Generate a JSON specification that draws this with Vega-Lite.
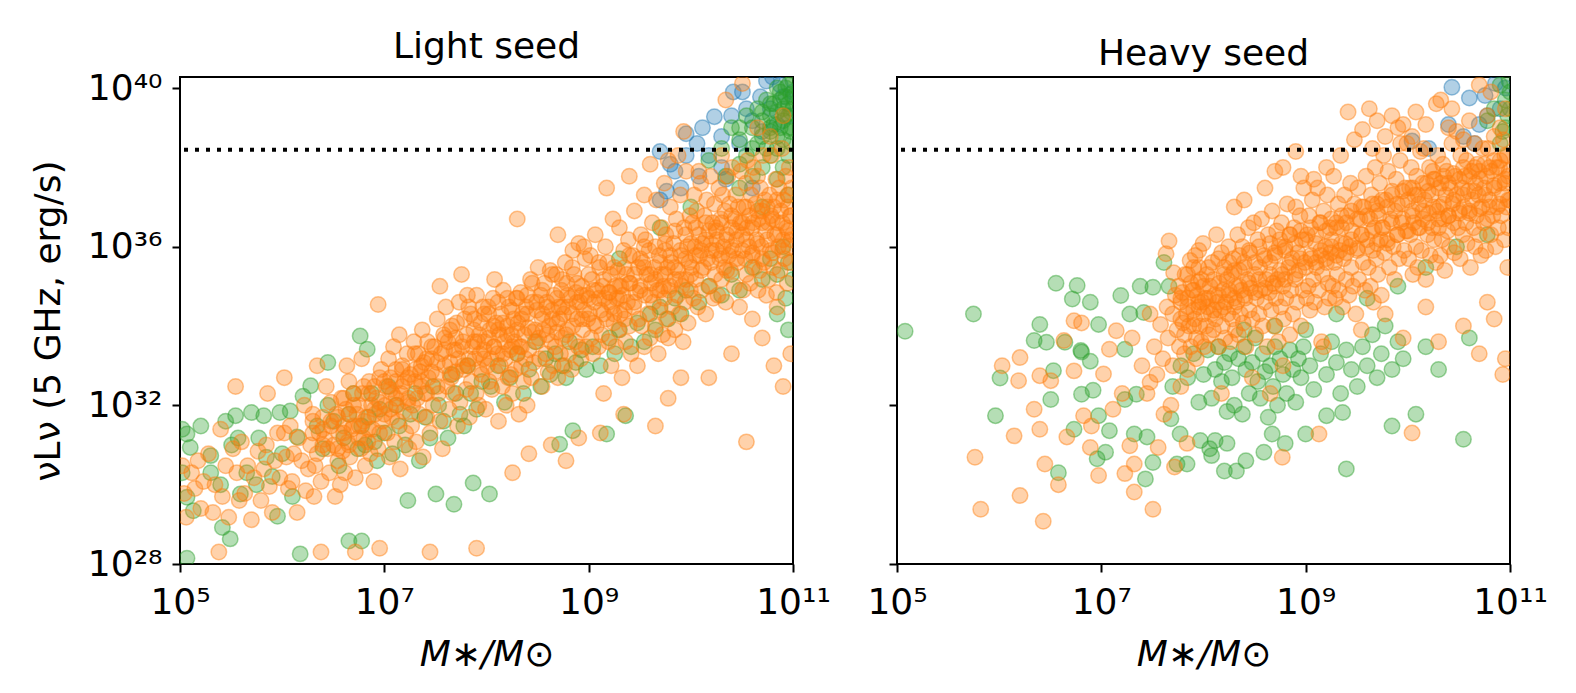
{
"$schema":"https://vega.github.io/schema/vega-lite/v6.json",
"background":"white",
"padding":{"left":29,"top":28,"right":5,"bottom":5},
"config":{
"font":"DejaVu Sans",
"view":{"stroke":"black","strokeWidth":2},
"axis":{"domain":false,"grid":false,"tickColor":"black","tickWidth":2,"tickSize":8,"labelFont":"DejaVu Sans","labelFontSize":36,"labelColor":"black","labelFlush":false,"labelOverlap":false,"titleFont":"DejaVu Sans","titleFontSize":36,"titleFontWeight":"normal","titleColor":"black"},
"axisX":{"labelPadding":13,"titlePadding":17},
"axisY":{"labelPadding":10,"titlePadding":20},
"title":{"font":"DejaVu Sans","fontSize":36,"fontWeight":"normal","color":"black","anchor":"middle","baseline":"alphabetic","offset":0}
},
"datasets":{
"light_blue":[{"x":1.7e10,"y":1.9e39},{"x":2.6e10,"y":8e39},{"x":3.2e10,"y":8e39},{"x":4.8e10,"y":6e39},{"x":6.3e10,"y":1.9e40},{"x":1.15e10,"y":4e38},{"x":6.3e9,"y":1.2e38},{"x":1.2e10,"y":6e37},{"x":2.5e10,"y":2e39},{"x":8e9,"y":3e37},{"x":1.5e10,"y":2e38},{"x":2e10,"y":1e38},{"x":3e10,"y":4e38},{"x":4e10,"y":1.5e39},{"x":5e10,"y":8e38},{"x":6e10,"y":3e39},{"x":7e10,"y":1.2e39},{"x":8e10,"y":6e39},{"x":9e10,"y":2e39},{"x":1e11,"y":8e39},{"x":2.2e10,"y":5e37},{"x":5e9,"y":1.5e37},{"x":7e9,"y":8e37},{"x":4e10,"y":3e37},{"x":9e9,"y":2e38},{"x":1.3e10,"y":1e39},{"x":3.5e10,"y":3e39},{"x":5.5e10,"y":1.5e40},{"x":7.5e10,"y":1.2e40},{"x":2e10,"y":6e38},{"x":9e9,"y":7e38},{"x":5e9,"y":2.5e38},{"x":5.8e9,"y":2.5e37}],
"light_green":[{"x":1.17e5,"y":1.9e31},{"x":1.26e5,"y":8.7e30},{"x":2e5,"y":5.4e30},{"x":3.5e5,"y":5.5e31},{"x":5e5,"y":6.6e31},{"x":6.6e5,"y":5.5e31},{"x":9.5e5,"y":6.6e31},{"x":1.2e6,"y":7.2e31},{"x":3.7e5,"y":1.5e31},{"x":5.9e5,"y":1.5e31},{"x":7e5,"y":4.9e30},{"x":2.5e5,"y":1e30},{"x":3.9e5,"y":5.8e29},{"x":1.17e5,"y":4.8e29},{"x":1.35e5,"y":2.2e29},{"x":2.6e5,"y":8.3e28},{"x":3.1e5,"y":4.3e28},{"x":1.17e5,"y":1.4e28},{"x":1.6e6,"y":1.7e32},{"x":1.9e6,"y":3.1e32},{"x":2.8e6,"y":1.2e33},{"x":5.8e6,"y":5.6e33},{"x":6.8e6,"y":2.6e33},{"x":1.7e7,"y":4e29},{"x":3.2e7,"y":5.8e29},{"x":4.8e7,"y":3.2e29},{"x":1.07e8,"y":5.8e29},{"x":7.4e7,"y":1.1e30},{"x":4.5e6,"y":3.8e28},{"x":6e6,"y":3.8e28},{"x":1.5e6,"y":1.8e28},{"x":2.3e9,"y":5.5e31},{"x":1.5e9,"y":1.9e31},{"x":7e8,"y":2.3e31},{"x":5.2e8,"y":1.05e31},{"x":1.6e5,"y":3e31},{"x":2.8e5,"y":4e31},{"x":4.5e5,"y":2e30},{"x":2e5,"y":2e30},{"x":8e5,"y":1.6e30},{"x":1e6,"y":6e30},{"x":5.6e5,"y":1e30},{"x":3.2e5,"y":1e31},{"x":1.26e6,"y":5e29},{"x":1.4e6,"y":1.6e31},{"x":9e5,"y":1.6e29},{"x":1.05e5,"y":2e30},{"x":1.05e5,"y":2.5e31},{"x":2.2e6,"y":3e31},{"x":2.5e6,"y":8e30},{"x":2.8e6,"y":1e32},{"x":3.2e6,"y":4e31},{"x":3.6e6,"y":3e30},{"x":4e6,"y":1.5e31},{"x":4.5e6,"y":6e31},{"x":5e6,"y":2e32},{"x":5.5e6,"y":8e30},{"x":6e6,"y":3e31},{"x":6.5e6,"y":1e31},{"x":7e6,"y":5e31},{"x":7.5e6,"y":2e32},{"x":8e6,"y":1.2e31},{"x":8.5e6,"y":4e30},{"x":9e6,"y":8e31},{"x":1e7,"y":2e31},{"x":1.1e7,"y":3e32},{"x":1.2e7,"y":6e30},{"x":1.3e7,"y":1e32},{"x":1.4e7,"y":3e31},{"x":1.6e7,"y":1e31},{"x":1.8e7,"y":6e31},{"x":2e7,"y":2e32},{"x":2.2e7,"y":4e30},{"x":2.5e7,"y":5e31},{"x":2.8e7,"y":1.5e31},{"x":3e7,"y":3e32},{"x":3.4e7,"y":1e32},{"x":3.8e7,"y":4e31},{"x":4.2e7,"y":1.5e31},{"x":4.6e7,"y":6e32},{"x":5e7,"y":2e32},{"x":5.5e7,"y":6e31},{"x":6e7,"y":3e31},{"x":6.5e7,"y":1e33},{"x":7e7,"y":2e32},{"x":8e7,"y":8e31},{"x":9e7,"y":4e32},{"x":1.1e8,"y":3e32},{"x":1.3e8,"y":1e33},{"x":1.5e8,"y":1.2e32},{"x":1.7e8,"y":5e32},{"x":2e8,"y":2e33},{"x":2.3e8,"y":2e32},{"x":2.6e8,"y":8e32},{"x":3e8,"y":4e33},{"x":3.4e8,"y":3e32},{"x":3.8e8,"y":1.5e33},{"x":4.2e8,"y":6e32},{"x":4.7e8,"y":2e33},{"x":5.5e8,"y":1e33},{"x":6e8,"y":5e32},{"x":6.5e8,"y":4e33},{"x":7.5e8,"y":1.2e33},{"x":8.5e8,"y":2.5e33},{"x":9.5e8,"y":8e32},{"x":1.1e9,"y":3e33},{"x":1.3e9,"y":1e33},{"x":1.6e9,"y":5e33},{"x":1.8e9,"y":2e33},{"x":2e9,"y":8e33},{"x":2.6e9,"y":3e33},{"x":3e9,"y":1.2e34},{"x":3.5e9,"y":4e33},{"x":4e9,"y":2e34},{"x":4.5e9,"y":8e33},{"x":5e9,"y":3e34},{"x":6e9,"y":1.5e34},{"x":7e9,"y":5e34},{"x":8e9,"y":2e34},{"x":9e9,"y":8e34},{"x":1.2e10,"y":4e34},{"x":1.5e10,"y":1e35},{"x":2e10,"y":6e34},{"x":2.5e10,"y":2e35},{"x":3e10,"y":8e34},{"x":4e10,"y":3e35},{"x":5e10,"y":1.5e35},{"x":6e10,"y":5e35},{"x":7e10,"y":2e35},{"x":8e10,"y":1e36},{"x":9e10,"y":4e35},{"x":1e11,"y":1.5e35},{"x":7e10,"y":2e34},{"x":9e10,"y":8e33},{"x":8.5e10,"y":5e34},{"x":2e10,"y":3e38},{"x":2.5e10,"y":1e39},{"x":3e10,"y":5e38},{"x":3.5e10,"y":2e39},{"x":3.5e10,"y":2e38},{"x":4e10,"y":1e39},{"x":4.5e10,"y":4e38},{"x":4.5e10,"y":3e39},{"x":5e10,"y":1.5e39},{"x":5e10,"y":6e38},{"x":5.5e10,"y":3e38},{"x":5.5e10,"y":5e39},{"x":6e10,"y":2e39},{"x":6e10,"y":8e38},{"x":6.5e10,"y":1.2e39},{"x":6.5e10,"y":4e39},{"x":7e10,"y":6e38},{"x":7e10,"y":2.5e39},{"x":7.5e10,"y":1e39},{"x":7.5e10,"y":8e39},{"x":8e10,"y":3e39},{"x":8e10,"y":1.5e39},{"x":8e10,"y":5e38},{"x":8.5e10,"y":6e39},{"x":8.5e10,"y":2e39},{"x":9e10,"y":1e39},{"x":9e10,"y":4e39},{"x":9e10,"y":1.2e40},{"x":9.5e10,"y":2.5e39},{"x":9.5e10,"y":8e38},{"x":9.5e10,"y":7e39},{"x":1e11,"y":1.5e40},{"x":1e11,"y":3e39},{"x":3e10,"y":1.2e38},{"x":4e10,"y":6e37},{"x":6e10,"y":2e38},{"x":8e10,"y":1e38},{"x":9.8e10,"y":4e38},{"x":1.5e10,"y":1.5e38},{"x":2.2e10,"y":6e37},{"x":4e10,"y":3e38},{"x":5e10,"y":1e38},{"x":7e10,"y":3e38},{"x":9e10,"y":2e38},{"x":6e10,"y":4e39},{"x":7e10,"y":1e40},{"x":8.5e10,"y":1e40},{"x":1e11,"y":6e39},{"x":9.8e10,"y":1e39},{"x":6e10,"y":1e39},{"x":5e10,"y":2.5e39},{"x":7.5e10,"y":5e39},{"x":3e10,"y":1e39},{"x":3e10,"y":3e37},{"x":5e10,"y":1e37},{"x":7e10,"y":5e37},{"x":9e10,"y":2e37},{"x":1e10,"y":1e37},{"x":5e9,"y":3e36},{"x":2e9,"y":5e35}],
"light_orange":[{"x":1.05e5,"y":3e30},{"x":1.1e5,"y":6e29},{"x":1.15e5,"y":1.5e29},{"x":1.3e5,"y":2e30},{"x":1.4e5,"y":8e29},{"x":1.5e5,"y":4e30},{"x":1.6e5,"y":2.5e29},{"x":1.7e5,"y":1.2e30},{"x":1.9e5,"y":6e30},{"x":2.1e5,"y":2e29},{"x":2.2e5,"y":1e30},{"x":2.5e5,"y":2.5e31},{"x":2.6e5,"y":5e29},{"x":2.8e5,"y":3e30},{"x":3e5,"y":1.5e29},{"x":2.4e5,"y":2e28},{"x":3.3e5,"y":8e30},{"x":3.6e5,"y":2e30},{"x":3.8e5,"y":4e29},{"x":4e5,"y":1.2e31},{"x":4.3e5,"y":6e29},{"x":4.6e5,"y":3e30},{"x":5e5,"y":1.3e29},{"x":5.3e5,"y":1.5e30},{"x":3.5e5,"y":3e32},{"x":5.8e5,"y":7e30},{"x":6.2e5,"y":4e29},{"x":6.6e5,"y":2.5e30},{"x":7e5,"y":1e31},{"x":7.5e5,"y":9e29},{"x":8e5,"y":2e29},{"x":8.5e5,"y":4e30},{"x":9e5,"y":2e31},{"x":9.5e5,"y":1.5e30},{"x":7.2e5,"y":2e32},{"x":1.05e6,"y":2e31},{"x":1.1e6,"y":5e30},{"x":1.15e6,"y":8e29},{"x":1.2e6,"y":3e31},{"x":1.25e6,"y":1.2e30},{"x":1.3e6,"y":6e30},{"x":1.4e6,"y":2e29},{"x":1.45e6,"y":1.5e31},{"x":1.55e6,"y":4e30},{"x":1.65e6,"y":1e32},{"x":1.7e6,"y":7e29},{"x":1.05e6,"y":5e32},{"x":1.8e6,"y":2.5e30},{"x":1.9e6,"y":1e31},{"x":2e6,"y":4e31},{"x":2.05e6,"y":5e29},{"x":2.1e6,"y":3e30},{"x":2.2e6,"y":6e30},{"x":2.3e6,"y":2e31},{"x":2.4e6,"y":1.2e30},{"x":2.5e6,"y":5e31},{"x":2.6e6,"y":1.4e31},{"x":2.7e6,"y":3e32},{"x":2.8e6,"y":8e30},{"x":2.9e6,"y":2e30},{"x":3e6,"y":3e31},{"x":2.2e6,"y":1e33},{"x":2.4e6,"y":2e28},{"x":3.2e6,"y":1e31},{"x":3.3e6,"y":5e29},{"x":3.4e6,"y":6e31},{"x":3.5e6,"y":4e30},{"x":3.6e6,"y":2e31},{"x":3.7e6,"y":1e30},{"x":3.8e6,"y":1.5e32},{"x":3.9e6,"y":7e30},{"x":4e6,"y":3e31},{"x":4.1e6,"y":2e30},{"x":4.2e6,"y":8e31},{"x":4.4e6,"y":1.2e31},{"x":4.5e6,"y":4e32},{"x":4.6e6,"y":5e30},{"x":4.8e6,"y":2.5e31},{"x":5e6,"y":1e32},{"x":5.2e6,"y":1.5e30},{"x":5.4e6,"y":6e31},{"x":4.3e6,"y":1e33},{"x":5.2e6,"y":2e28},{"x":5.7e6,"y":3e31},{"x":5.9e6,"y":8e30},{"x":6.1e6,"y":2e32},{"x":6.3e6,"y":1.5e31},{"x":6.5e6,"y":3e30},{"x":6.7e6,"y":5e31},{"x":6.9e6,"y":1.2e31},{"x":7.1e6,"y":4e32},{"x":7.3e6,"y":6e30},{"x":7.5e6,"y":1e32},{"x":7.7e6,"y":2.5e31},{"x":7.9e6,"y":1.2e30},{"x":8.1e6,"y":6e31},{"x":8.4e6,"y":1.5e32},{"x":8.7e6,"y":8e30},{"x":9e6,"y":2e31},{"x":9.3e6,"y":8e32},{"x":9.6e6,"y":4e31},{"x":8.7e6,"y":3.5e34},{"x":9e6,"y":2.5e28},{"x":6e6,"y":1.5e33},{"x":1.02e7,"y":1e32},{"x":1.05e7,"y":3e32},{"x":1.07e7,"y":2e31},{"x":1.1e7,"y":1.5e33},{"x":1.12e7,"y":5e30},{"x":1.15e7,"y":5e32},{"x":1.18e7,"y":5e31},{"x":1.2e7,"y":2e32},{"x":1.23e7,"y":3e33},{"x":1.26e7,"y":1.2e31},{"x":1.3e7,"y":8e32},{"x":1.33e7,"y":1e32},{"x":1.36e7,"y":4e31},{"x":1.4e7,"y":6e33},{"x":1.43e7,"y":2.5e30},{"x":1.46e7,"y":2e32},{"x":1.5e7,"y":1e33},{"x":1.54e7,"y":7e31},{"x":1.58e7,"y":4e32},{"x":1.62e7,"y":2e31},{"x":1.67e7,"y":2e33},{"x":1.72e7,"y":1.5e32},{"x":1.75e7,"y":8e30},{"x":1.8e7,"y":6e32},{"x":1.85e7,"y":3e31},{"x":1.9e7,"y":1e32},{"x":1.95e7,"y":4e33},{"x":2e7,"y":4e32},{"x":2.05e7,"y":1.2e31},{"x":2.1e7,"y":1.5e32},{"x":2.15e7,"y":2e33},{"x":2.2e7,"y":6e31},{"x":2.25e7,"y":7e32},{"x":2.3e7,"y":3e32},{"x":2.35e7,"y":8e33},{"x":2.4e7,"y":5e30},{"x":2.45e7,"y":1.2e33},{"x":2.5e7,"y":2e32},{"x":2.6e7,"y":5e31},{"x":2.65e7,"y":4e33},{"x":2.7e7,"y":5e32},{"x":2.8e7,"y":2e31},{"x":2.9e7,"y":1.5e33},{"x":3e7,"y":1e32},{"x":3.1e7,"y":3e33},{"x":2.8e7,"y":2e28},{"x":3.2e7,"y":6e32},{"x":3.3e7,"y":1.5e34},{"x":3.4e7,"y":2e32},{"x":3.5e7,"y":1e35},{"x":3.5e7,"y":4e31},{"x":3.6e7,"y":2e33},{"x":3.7e7,"y":8e30},{"x":3.8e7,"y":6e33},{"x":3.9e7,"y":1e33},{"x":4e7,"y":3e34},{"x":4.1e7,"y":3e32},{"x":4.2e7,"y":4e33},{"x":4.3e7,"y":8e31},{"x":4.4e7,"y":1.2e33},{"x":4.5e7,"y":5e32},{"x":4.6e7,"y":1e34},{"x":4.7e7,"y":2e32},{"x":4.8e7,"y":2.5e33},{"x":5e7,"y":7e32},{"x":5e7,"y":5e33},{"x":5.2e7,"y":3e31},{"x":5.3e7,"y":1.5e33},{"x":5.4e7,"y":4e34},{"x":5.5e7,"y":1.2e32},{"x":5.7e7,"y":2e35},{"x":5.8e7,"y":3e33},{"x":6e7,"y":8e32},{"x":6.1e7,"y":1.5e34},{"x":6.3e7,"y":2.5e32},{"x":6.4e7,"y":6e33},{"x":6.6e7,"y":1e33},{"x":6.8e7,"y":5e31},{"x":7e7,"y":2e34},{"x":7.1e7,"y":4e32},{"x":7.3e7,"y":3e33},{"x":7.5e7,"y":8e33},{"x":7.7e7,"y":1.5e33},{"x":7.9e7,"y":2e32},{"x":8e7,"y":6e34},{"x":8.2e7,"y":4e33},{"x":8.4e7,"y":1e32},{"x":8.6e7,"y":2e33},{"x":8.8e7,"y":1.2e34},{"x":9e7,"y":6e32},{"x":9.2e7,"y":3e34},{"x":9.4e7,"y":1.5e33},{"x":9.6e7,"y":4e33},{"x":9.8e7,"y":8e31},{"x":8e7,"y":2.5e28},{"x":6.5e7,"y":6e34},{"x":1.02e8,"y":1e33},{"x":1.04e8,"y":3e34},{"x":1.06e8,"y":4e32},{"x":1.08e8,"y":8e33},{"x":1.1e8,"y":1.5e33},{"x":1.13e8,"y":2.5e32},{"x":1.16e8,"y":5e34},{"x":1.19e8,"y":3e33},{"x":1.22e8,"y":7e32},{"x":1.25e8,"y":1.2e34},{"x":1.28e8,"y":2e33},{"x":1.31e8,"y":4e31},{"x":1.34e8,"y":6e33},{"x":1.37e8,"y":1e33},{"x":1.4e8,"y":2e34},{"x":1.43e8,"y":3e32},{"x":1.46e8,"y":8e34},{"x":1.5e8,"y":4e33},{"x":1.53e8,"y":1.5e33},{"x":1.56e8,"y":1e32},{"x":1.6e8,"y":1e34},{"x":1.63e8,"y":5e32},{"x":1.66e8,"y":3e34},{"x":1.7e8,"y":2.5e33},{"x":1.73e8,"y":6e32},{"x":1.76e8,"y":6e33},{"x":1.2e8,"y":1.5e35},{"x":1.8e8,"y":2e32},{"x":1.84e8,"y":1.5e34},{"x":1.88e8,"y":4e33},{"x":1.92e8,"y":8e32},{"x":1.96e8,"y":5e34},{"x":2e8,"y":2e33},{"x":2e8,"y":5e36},{"x":2.04e8,"y":1.2e34},{"x":2.08e8,"y":6e31},{"x":2.12e8,"y":3e33},{"x":2.16e8,"y":7e34},{"x":2.2e8,"y":1e33},{"x":2.25e8,"y":2e34},{"x":2.3e8,"y":4e32},{"x":2.35e8,"y":6e33},{"x":2.4e8,"y":1.5e33},{"x":2.45e8,"y":3e34},{"x":2.5e8,"y":1e32},{"x":2.55e8,"y":9e33},{"x":2.6e8,"y":2.5e33},{"x":2.7e8,"y":1.5e35},{"x":2.75e8,"y":5e32},{"x":2.8e8,"y":4e34},{"x":2.9e8,"y":1.2e33},{"x":3e8,"y":8e33},{"x":3.1e8,"y":2.5e34},{"x":2.6e8,"y":6e30},{"x":1.8e8,"y":2e30},{"x":3.2e8,"y":3e35},{"x":3.25e8,"y":5e33},{"x":3.3e8,"y":1.5e33},{"x":3.4e8,"y":6e34},{"x":3.5e8,"y":3e32},{"x":3.55e8,"y":2e34},{"x":3.6e8,"y":8e33},{"x":3.7e8,"y":1.2e35},{"x":3.8e8,"y":2e33},{"x":3.9e8,"y":4e34},{"x":4e8,"y":7e32},{"x":4.1e8,"y":1e34},{"x":4.2e8,"y":2.5e35},{"x":4.3e8,"y":4e33},{"x":4.4e8,"y":1.5e34},{"x":4.5e8,"y":1e33},{"x":4.6e8,"y":6e34},{"x":4.7e8,"y":3e33},{"x":4.8e8,"y":2e35},{"x":4.9e8,"y":7e33},{"x":5e8,"y":5e32},{"x":5.1e8,"y":3e34},{"x":5.2e8,"y":1.5e34},{"x":5.3e8,"y":2e33},{"x":5.4e8,"y":8e34},{"x":5.5e8,"y":5e33},{"x":5e8,"y":2e36},{"x":4.3e8,"y":1e31},{"x":5.7e8,"y":2e34},{"x":5.8e8,"y":1e33},{"x":5.9e8,"y":4e35},{"x":6e8,"y":6e33},{"x":6.1e8,"y":1.2e35},{"x":6.3e8,"y":3e34},{"x":6.4e8,"y":2e33},{"x":6.6e8,"y":5e34},{"x":6.8e8,"y":8e32},{"x":7e8,"y":1e34},{"x":7e8,"y":8e35},{"x":7.2e8,"y":2e35},{"x":7.4e8,"y":4e33},{"x":7.5e8,"y":7e34},{"x":7.7e8,"y":1.5e34},{"x":7.9e8,"y":3e33},{"x":8e8,"y":1.2e36},{"x":8.2e8,"y":4e34},{"x":8.4e8,"y":1.5e33},{"x":8.6e8,"y":1e35},{"x":8.8e8,"y":8e33},{"x":9e8,"y":2.5e34},{"x":9.2e8,"y":5e35},{"x":9.4e8,"y":3e33},{"x":9.6e8,"y":6e34},{"x":9.8e8,"y":1.5e34},{"x":9e8,"y":1e36},{"x":6e8,"y":4e30},{"x":8e8,"y":1.5e31},{"x":1.02e9,"y":2e34},{"x":1.04e9,"y":6e35},{"x":1.06e9,"y":5e33},{"x":1.08e9,"y":1.5e35},{"x":1.1e9,"y":2e33},{"x":1.13e9,"y":4e34},{"x":1.16e9,"y":2e36},{"x":1.19e9,"y":1e34},{"x":1.22e9,"y":8e34},{"x":1.25e9,"y":3e33},{"x":1.28e9,"y":3e35},{"x":1.31e9,"y":2.5e34},{"x":1.34e9,"y":6e33},{"x":1.37e9,"y":1e35},{"x":1.4e9,"y":2e32},{"x":1.43e9,"y":5e34},{"x":1.46e9,"y":1e36},{"x":1.5e9,"y":1.5e34},{"x":1.53e9,"y":4e35},{"x":1.56e9,"y":4e33},{"x":1.6e9,"y":7e34},{"x":1.63e9,"y":2e35},{"x":1.66e9,"y":1e33},{"x":1.7e9,"y":3e34},{"x":1.73e9,"y":5e36},{"x":1.76e9,"y":1.2e34},{"x":1.5e9,"y":3e37},{"x":1.3e9,"y":2e31},{"x":1.8e9,"y":1e35},{"x":1.84e9,"y":3e33},{"x":1.88e9,"y":5e34},{"x":1.92e9,"y":2.5e35},{"x":1.96e9,"y":8e33},{"x":2e9,"y":3e36},{"x":2.04e9,"y":2e34},{"x":2.08e9,"y":1e35},{"x":2.12e9,"y":5e32},{"x":2.16e9,"y":6e34},{"x":2.2e9,"y":8e35},{"x":2.25e9,"y":1.5e34},{"x":2.3e9,"y":4e33},{"x":2.35e9,"y":2e35},{"x":2.4e9,"y":4e34},{"x":2.45e9,"y":1.5e36},{"x":2.5e9,"y":1e34},{"x":2.55e9,"y":1.2e35},{"x":2.6e9,"y":2e33},{"x":2.7e9,"y":6e35},{"x":2.75e9,"y":3e34},{"x":2.8e9,"y":8e36},{"x":2.9e9,"y":7e34},{"x":3e9,"y":1e33},{"x":3.05e9,"y":3e35},{"x":3.1e9,"y":1.5e34},{"x":2.5e9,"y":6e37},{"x":2.2e9,"y":6e31},{"x":3.2e9,"y":1e35},{"x":3.25e9,"y":2e36},{"x":3.3e9,"y":1e34},{"x":3.4e9,"y":4e35},{"x":3.5e9,"y":3e33},{"x":3.55e9,"y":6e34},{"x":3.6e9,"y":1.5e36},{"x":3.7e9,"y":2e35},{"x":3.8e9,"y":2e34},{"x":3.9e9,"y":8e35},{"x":4e9,"y":5e33},{"x":4.1e9,"y":1.2e35},{"x":4.2e9,"y":4e36},{"x":4.3e9,"y":4e34},{"x":4.4e9,"y":3e35},{"x":4.5e9,"y":1e34},{"x":4.6e9,"y":1.5e37},{"x":4.7e9,"y":8e34},{"x":4.8e9,"y":2e33},{"x":4.9e9,"y":6e35},{"x":5e9,"y":2.5e34},{"x":5.1e9,"y":2e35},{"x":5.2e9,"y":3e36},{"x":5.3e9,"y":6e33},{"x":5.4e9,"y":1e35},{"x":5.5e9,"y":5e34},{"x":5.6e9,"y":8e35},{"x":4e9,"y":1.2e38},{"x":3.5e9,"y":2e37},{"x":4.5e9,"y":3e31},{"x":5.5e9,"y":4e37},{"x":5.7e9,"y":2e36},{"x":5.8e9,"y":1.5e34},{"x":5.9e9,"y":3e35},{"x":6e9,"y":5e33},{"x":6.1e9,"y":8e34},{"x":6.3e9,"y":1e37},{"x":6.4e9,"y":4e35},{"x":6.6e9,"y":3e34},{"x":6.8e9,"y":1.2e36},{"x":7e9,"y":1.5e35},{"x":7e9,"y":8e33},{"x":7.2e9,"y":5e36},{"x":7.4e9,"y":6e34},{"x":7.5e9,"y":2.5e35},{"x":7.7e9,"y":2e34},{"x":7.9e9,"y":2e37},{"x":8e9,"y":6e35},{"x":8.2e9,"y":1e35},{"x":8.4e9,"y":4e33},{"x":8.6e9,"y":3e36},{"x":8.8e9,"y":4e34},{"x":9e9,"y":1.5e35},{"x":9.2e9,"y":1e36},{"x":9.4e9,"y":1.2e34},{"x":9.6e9,"y":4e35},{"x":9.8e9,"y":6e36},{"x":9.9e9,"y":8e34},{"x":6e9,"y":1.5e38},{"x":7.5e9,"y":2e38},{"x":9e9,"y":8e37},{"x":8e9,"y":5e32},{"x":6e9,"y":1.5e32},{"x":1.02e10,"y":3e35},{"x":1.04e10,"y":4e36},{"x":1.06e10,"y":5e34},{"x":1.08e10,"y":2e37},{"x":1.1e10,"y":1e36},{"x":1.12e10,"y":1.5e35},{"x":1.14e10,"y":8e36},{"x":1.17e10,"y":3e34},{"x":1.2e10,"y":2e36},{"x":1.22e10,"y":6e35},{"x":1.25e10,"y":4e37},{"x":1.28e10,"y":8e34},{"x":1.3e10,"y":1.2e36},{"x":1.33e10,"y":3e35},{"x":1.36e10,"y":6e36},{"x":1.4e10,"y":2e34},{"x":1.43e10,"y":1.5e37},{"x":1.46e10,"y":5e35},{"x":1.5e10,"y":2.5e36},{"x":1.53e10,"y":1e35},{"x":1.56e10,"y":6e37},{"x":1.6e10,"y":8e35},{"x":1.63e10,"y":4e36},{"x":1.66e10,"y":5e34},{"x":1.7e10,"y":1.2e37},{"x":1.73e10,"y":2e35},{"x":1.76e10,"y":3e36},{"x":1.2e10,"y":8e37},{"x":1.5e10,"y":5e32},{"x":8.5e9,"y":8e38},{"x":2.2e10,"y":5e39},{"x":3.2e10,"y":1.3e40},{"x":1.8e10,"y":1.5e36},{"x":1.84e10,"y":6e34},{"x":1.88e10,"y":3e37},{"x":1.92e10,"y":5e35},{"x":1.96e10,"y":5e36},{"x":2e10,"y":1.5e35},{"x":2.04e10,"y":2e37},{"x":2.08e10,"y":1e36},{"x":2.12e10,"y":3e35},{"x":2.16e10,"y":8e36},{"x":2.2e10,"y":4e34},{"x":2.25e10,"y":2e36},{"x":2.3e10,"y":6e37},{"x":2.35e10,"y":6e35},{"x":2.4e10,"y":1.2e37},{"x":2.45e10,"y":2.5e35},{"x":2.5e10,"y":3e36},{"x":2.55e10,"y":1e38},{"x":2.6e10,"y":8e35},{"x":2.65e10,"y":1e35},{"x":2.7e10,"y":5e36},{"x":2.75e10,"y":2e37},{"x":2.8e10,"y":1.5e36},{"x":2.85e10,"y":4e35},{"x":2.9e10,"y":1e37},{"x":3e10,"y":3e34},{"x":3.05e10,"y":4e36},{"x":3.1e10,"y":8e37},{"x":2e10,"y":2e38},{"x":2.5e10,"y":2e33},{"x":3.2e10,"y":2e36},{"x":3.25e10,"y":8e34},{"x":3.3e10,"y":1e37},{"x":3.4e10,"y":5e35},{"x":3.45e10,"y":4e37},{"x":3.5e10,"y":2e35},{"x":3.55e10,"y":3e36},{"x":3.6e10,"y":1.5e38},{"x":3.7e10,"y":1e36},{"x":3.75e10,"y":6e36},{"x":3.8e10,"y":1.2e35},{"x":3.9e10,"y":2e37},{"x":4e10,"y":7e35},{"x":4.05e10,"y":4e36},{"x":4.1e10,"y":1e38},{"x":4.2e10,"y":3e35},{"x":4.3e10,"y":1.2e37},{"x":4.4e10,"y":1.5e36},{"x":4.5e10,"y":6e37},{"x":4.55e10,"y":8e34},{"x":4.6e10,"y":5e36},{"x":4.7e10,"y":2.5e35},{"x":4.8e10,"y":3e37},{"x":4.9e10,"y":1e36},{"x":5e10,"y":8e36},{"x":5.1e10,"y":2e38},{"x":5.2e10,"y":4e35},{"x":5.3e10,"y":1.5e37},{"x":5.4e10,"y":2.5e36},{"x":5.5e10,"y":6e34},{"x":3.5e10,"y":1.2e31},{"x":5e10,"y":5e33},{"x":4e10,"y":1.5e34},{"x":4.5e10,"y":1e39},{"x":5.7e10,"y":4e36},{"x":5.8e10,"y":1.5e35},{"x":5.9e10,"y":2e37},{"x":6e10,"y":8e35},{"x":6.1e10,"y":6e36},{"x":6.2e10,"y":2e38},{"x":6.4e10,"y":3e35},{"x":6.5e10,"y":1e37},{"x":6.6e10,"y":2e36},{"x":6.8e10,"y":5e37},{"x":6.9e10,"y":7e34},{"x":7e10,"y":4e36},{"x":7.2e10,"y":1e36},{"x":7.3e10,"y":3e37},{"x":7.5e10,"y":2.5e35},{"x":7.6e10,"y":8e36},{"x":7.8e10,"y":3e38},{"x":8e10,"y":1.5e36},{"x":8.1e10,"y":1.5e37},{"x":8.3e10,"y":5e35},{"x":8.5e10,"y":6e37},{"x":8.6e10,"y":3e36},{"x":8.8e10,"y":1.2e35},{"x":8.9e10,"y":2e37},{"x":9e10,"y":1e36},{"x":9.2e10,"y":1e38},{"x":9.4e10,"y":6e36},{"x":9.5e10,"y":4e35},{"x":9.7e10,"y":3e37},{"x":9.9e10,"y":2e36},{"x":8e10,"y":3e32},{"x":6.5e10,"y":1e33},{"x":9.5e10,"y":2e33},{"x":7e10,"y":3e34},{"x":8e10,"y":2e39},{"x":6e10,"y":6e38},
{"x":2e6,"y":2e31},{"x":2e6,"y":6e31},{"x":2.5e6,"y":1e31},{"x":2.5e6,"y":2.5e31},{"x":3e6,"y":4e31},{"x":3e6,"y":1.2e32},{"x":3.5e6,"y":8e30},{"x":3.5e6,"y":5e31},{"x":4e6,"y":1.5e32},{"x":4e6,"y":2e31},{"x":4.5e6,"y":6e31},{"x":4.5e6,"y":1e31},{"x":5e6,"y":3e31},{"x":5e6,"y":2e32},{"x":5.6e6,"y":1e32},{"x":5.6e6,"y":1.5e31},{"x":6.3e6,"y":4e31},{"x":6.3e6,"y":3e32},{"x":7e6,"y":2e32},{"x":7e6,"y":2.5e31},{"x":8e6,"y":8e31},{"x":8e6,"y":3e32},{"x":9e6,"y":1.2e32},{"x":9e6,"y":5e32},{"x":1e7,"y":6e31},{"x":1e7,"y":4e32},{"x":1.15e7,"y":2.5e32},{"x":1.15e7,"y":8e31},{"x":1.3e7,"y":4e32},{"x":1.3e7,"y":1.5e32},{"x":1.5e7,"y":3e32},{"x":1.5e7,"y":8e32},{"x":1.7e7,"y":5e32},{"x":1.7e7,"y":1.2e32},{"x":2e7,"y":2e33},{"x":2e7,"y":8e32},{"x":2.3e7,"y":1e33},{"x":2.3e7,"y":4e32},{"x":2.6e7,"y":1.5e33},{"x":2.6e7,"y":2e32},{"x":2.9e7,"y":7e32},{"x":2.9e7,"y":3e33},
{"x":3.3e7,"y":1.2e33},{"x":3.3e7,"y":3e32},{"x":3.9e7,"y":5e33},{"x":3.9e7,"y":2.5e33},{"x":4.4e7,"y":6e32},{"x":4.4e7,"y":8e33},{"x":5.1e7,"y":2.5e33},{"x":5.1e7,"y":1.2e34},{"x":5.9e7,"y":4e33},{"x":5.9e7,"y":1e33},{"x":6.7e7,"y":3e34},{"x":6.7e7,"y":1.5e33},{"x":7.6e7,"y":4e33},{"x":7.6e7,"y":1.5e34},{"x":8.5e7,"y":8e32},{"x":8.5e7,"y":6e33},{"x":9.5e7,"y":2e34},{"x":9.5e7,"y":2.5e33},{"x":1.05e8,"y":5e33},{"x":1.05e8,"y":2e34},{"x":1.18e8,"y":1e34},{"x":1.18e8,"y":3e33},{"x":1.3e8,"y":4e34},{"x":1.3e8,"y":8e33},{"x":1.45e8,"y":2e33},{"x":1.45e8,"y":1.2e34},{"x":1.6e8,"y":6e33},{"x":1.6e8,"y":5e34},{"x":1.78e8,"y":2.5e34},{"x":1.78e8,"y":3e33},{"x":2e8,"y":8e33},{"x":2e8,"y":5e34},{"x":2.2e8,"y":3e33},{"x":2.2e8,"y":1.5e34},{"x":2.5e8,"y":2e34},{"x":2.5e8,"y":6e34},{"x":2.8e8,"y":7e33},{"x":2.8e8,"y":1.2e35},{"x":3.1e8,"y":4e33},{"x":3.1e8,"y":4e34},{"x":3.5e8,"y":1.5e34},{"x":3.5e8,"y":8e34},{"x":3.9e8,"y":6e33},{"x":3.9e8,"y":3e34},{"x":4.4e8,"y":2e35},{"x":4.4e8,"y":2.5e34},{"x":4.9e8,"y":1.2e34},{"x":4.9e8,"y":5e34},{"x":5.5e8,"y":1.5e35},{"x":5.5e8,"y":3e34},{"x":6.2e8,"y":8e33},{"x":6.2e8,"y":6e34},{"x":6.9e8,"y":2e34},{"x":6.9e8,"y":3e35},{"x":7.7e8,"y":4e34},{"x":7.7e8,"y":1.2e35},{"x":8.6e8,"y":1.5e34},{"x":8.6e8,"y":6e34},{"x":1e9,"y":5e34},{"x":1e9,"y":2e35},{"x":1.12e9,"y":1.2e34},{"x":1.12e9,"y":8e34},{"x":1.26e9,"y":4e35},{"x":1.26e9,"y":5e34},{"x":1.4e9,"y":2e34},{"x":1.4e9,"y":1.5e35},{"x":1.58e9,"y":7e34},{"x":1.58e9,"y":4e34},{"x":1.78e9,"y":3e35},{"x":1.78e9,"y":2e34},{"x":2e9,"y":1e35},{"x":2e9,"y":5e34},{"x":2.24e9,"y":2.5e34},{"x":2.24e9,"y":3e35},{"x":2.5e9,"y":1.2e35},{"x":2.5e9,"y":6e35},{"x":2.8e9,"y":4e34},{"x":2.8e9,"y":2e35},{"x":3.2e9,"y":8e34},{"x":3.2e9,"y":5e35},{"x":3.5e9,"y":3e35},{"x":3.5e9,"y":1e36},{"x":4e9,"y":6e34},{"x":4e9,"y":2e35},{"x":4.5e9,"y":1e36},{"x":4.5e9,"y":1.5e35},{"x":5e9,"y":4e35},{"x":5e9,"y":8e34},{"x":5.6e9,"y":2e35},{"x":5.6e9,"y":1.2e36},{"x":6.3e9,"y":6e35},{"x":6.3e9,"y":1e35},{"x":7e9,"y":3e35},{"x":7e9,"y":2.5e36},{"x":7.9e9,"y":1.5e35},{"x":7.9e9,"y":8e35},{"x":8.9e9,"y":5e35},{"x":8.9e9,"y":2e36},{"x":1e10,"y":2e35},{"x":1e10,"y":1.2e36},{"x":1.12e10,"y":6e35},{"x":1.12e10,"y":3e36},{"x":1.26e10,"y":2.5e35},{"x":1.26e10,"y":8e35},{"x":1.4e10,"y":1.5e36},{"x":1.4e10,"y":4e36},{"x":1.58e10,"y":4e35},{"x":1.58e10,"y":1.2e36},{"x":1.78e10,"y":2.5e36},{"x":1.78e10,"y":8e35},{"x":2e10,"y":6e35},{"x":2e10,"y":4e36},{"x":2.24e10,"y":1.5e36},{"x":2.24e10,"y":2.5e35},{"x":2.5e10,"y":1e36},{"x":2.5e10,"y":6e36},{"x":2.8e10,"y":2.5e36},{"x":2.8e10,"y":5e35},{"x":3.2e10,"y":8e35},{"x":3.2e10,"y":4e36},{"x":3.5e10,"y":1.5e36},{"x":3.5e10,"y":1e37},{"x":4e10,"y":3e36},{"x":4e10,"y":6e35},{"x":4.5e10,"y":1.2e36},{"x":4.5e10,"y":8e36},{"x":5e10,"y":4e36},{"x":5e10,"y":5e35},{"x":5.6e10,"y":1.5e36},{"x":5.6e10,"y":1e37},{"x":6.3e10,"y":5e36},{"x":6.3e10,"y":7e35},{"x":7e10,"y":2e36},{"x":7e10,"y":1.5e37},{"x":7.9e10,"y":4e36},{"x":7.9e10,"y":8e35},{"x":8.9e10,"y":1e37},{"x":8.9e10,"y":2.5e36},{"x":9.6e10,"y":6e36},{"x":9.6e10,"y":1.5e36}],
"heavy_blue":[{"x":2.7e10,"y":1.05e40},{"x":4e10,"y":5.6e39},{"x":5.7e10,"y":6.5e39},{"x":7.2e10,"y":1.3e40},{"x":1.1e10,"y":4.6e38},{"x":2.5e10,"y":1.2e39},{"x":6e10,"y":2e39},{"x":8e10,"y":3e39},{"x":9e10,"y":1e40},{"x":1.6e10,"y":3e38},{"x":3.5e10,"y":6e38},{"x":5e10,"y":1.2e39},{"x":4.5e10,"y":4e38}],
"heavy_green":[{"x":1.2e5,"y":7.4e33},{"x":5.6e5,"y":2e34},{"x":3.6e6,"y":1.2e35},{"x":5.8e6,"y":1.05e35},{"x":5.2e6,"y":4.8e34},{"x":7.8e6,"y":4e34},{"x":2.5e6,"y":1.1e34},{"x":2.2e6,"y":4.3e33},{"x":2.9e6,"y":3.9e33},{"x":4.4e6,"y":3.9e33},{"x":6.4e6,"y":2.2e33},{"x":6.3e6,"y":2.4e33},{"x":9.4e6,"y":1.1e34},{"x":1.55e7,"y":5.9e34},{"x":2.4e7,"y":1e35},{"x":3.2e7,"y":9.5e34},{"x":4.6e7,"y":1e35},{"x":4.1e7,"y":4e35},{"x":1.02e6,"y":4.9e32},{"x":3.4e6,"y":7.5e32},{"x":7.8e6,"y":1.3e33},{"x":1.7e7,"y":2.6e33},{"x":1.9e7,"y":2e34},{"x":2.6e7,"y":2.2e34},{"x":9.2e5,"y":5.5e31},{"x":3.2e6,"y":1.4e32},{"x":6.4e6,"y":1.9e32},{"x":8.3e6,"y":2.4e32},{"x":5.4e6,"y":2.5e31},{"x":9.4e6,"y":5.5e31},{"x":9.1e6,"y":4.5e30},{"x":1.1e7,"y":6.6e30},{"x":3.8e6,"y":2e30},{"x":1.2e7,"y":2.3e31},{"x":2.1e7,"y":1.9e31},{"x":2.8e7,"y":1.6e31},{"x":2.7e7,"y":1.4e30},{"x":3.2e7,"y":3.6e30},{"x":5.5e7,"y":3.3e30},{"x":6.9e7,"y":3.3e30},{"x":1.7e7,"y":1.4e32},{"x":2.2e7,"y":1.9e32},{"x":4.8e7,"y":4.6e31},{"x":5.9e7,"y":1.9e31},{"x":9.3e7,"y":1.3e31},{"x":1.2e8,"y":5.4e30},{"x":1.6e8,"y":2.2e30},{"x":2.1e8,"y":2.2e30},{"x":2.6e8,"y":4e30},{"x":3.9e8,"y":6.6e30},{"x":6.3e8,"y":1.1e31},{"x":4.7e8,"y":1.9e31},{"x":1e9,"y":1.9e31},{"x":1.6e9,"y":5.5e31},{"x":2.3e9,"y":6.6e31},{"x":2.5e9,"y":2.5e30},{"x":1.15e8,"y":8e30},{"x":1.3e8,"y":1.3e31},{"x":1.7e8,"y":1.1e31},{"x":5e7,"y":3e32},{"x":6e7,"y":1e33},{"x":7e7,"y":5e32},{"x":8e7,"y":2e33},{"x":9e7,"y":1.2e32},{"x":1e8,"y":6e32},{"x":1.1e8,"y":2.5e33},{"x":1.2e8,"y":1.5e32},{"x":1.3e8,"y":8e32},{"x":1.4e8,"y":3e33},{"x":1.5e8,"y":4e32},{"x":1.6e8,"y":1.2e33},{"x":1.7e8,"y":7e31},{"x":1.8e8,"y":2e33},{"x":1.9e8,"y":5e32},{"x":2e8,"y":1e32},{"x":2.2e8,"y":1.5e33},{"x":2.4e8,"y":6e31},{"x":2.5e8,"y":3e33},{"x":2.6e8,"y":8e32},{"x":2.8e8,"y":2e32},{"x":3e8,"y":1.2e33},{"x":3.2e8,"y":5e33},{"x":3.4e8,"y":4e32},{"x":3.6e8,"y":1.5e32},{"x":3.8e8,"y":2e33},{"x":4e8,"y":7e32},{"x":4.3e8,"y":5e31},{"x":4.5e8,"y":1e33},{"x":4.8e8,"y":3e32},{"x":5e8,"y":3e33},{"x":5.3e8,"y":1e32},{"x":5.6e8,"y":1.5e33},{"x":6e8,"y":6e32},{"x":6.5e8,"y":2e32},{"x":7e8,"y":2.5e33},{"x":7.5e8,"y":8e32},{"x":8e8,"y":1.2e32},{"x":8.5e8,"y":1.5e33},{"x":9e8,"y":5e32},{"x":9.5e8,"y":3e33},{"x":1.1e9,"y":1e33},{"x":1.2e9,"y":2.5e32},{"x":1.4e9,"y":2e33},{"x":1.6e9,"y":6e32},{"x":1.8e9,"y":4e33},{"x":2e9,"y":1.2e33},{"x":2.2e9,"y":2e32},{"x":2.5e9,"y":2.5e33},{"x":2.8e9,"y":8e32},{"x":3.2e9,"y":3e32},{"x":3.6e9,"y":3e33},{"x":4e9,"y":1e33},{"x":4.5e9,"y":6e33},{"x":5e9,"y":5e32},{"x":5.5e9,"y":2e33},{"x":6e9,"y":1e34},{"x":7e9,"y":8e32},{"x":8e9,"y":4e33},{"x":9e9,"y":1.5e33},{"x":1.2e10,"y":6e31},{"x":1.5e10,"y":3e33},{"x":2e10,"y":8e32},{"x":3.5e10,"y":1.4e31},{"x":4e10,"y":5e33},{"x":7e9,"y":3e31},{"x":2e9,"y":2e34},{"x":4e9,"y":5e34},{"x":8e9,"y":1e35},{"x":1.5e10,"y":3e35},{"x":3e10,"y":1e36},{"x":6e10,"y":2e36},{"x":1e9,"y":8e33},{"x":5e8,"y":1e34},{"x":2.5e8,"y":8e33},{"x":8e10,"y":1.2e40},{"x":9e10,"y":5e39},{"x":9.5e10,"y":2e39},{"x":8.5e10,"y":8e38},{"x":1e11,"y":3e39},{"x":7e10,"y":3e39},{"x":9e10,"y":1e39},{"x":1e11,"y":8e39},{"x":6e10,"y":1.5e39},{"x":9.8e10,"y":1.5e40},{"x":8e10,"y":4e38}],
"heavy_orange":[{"x":1.07e6,"y":1e33},{"x":1.6e6,"y":1.6e33},{"x":1.55e6,"y":4.2e32},{"x":2.5e6,"y":5.6e32},{"x":5.4e6,"y":1.35e34},{"x":4.3e6,"y":4.3e33},{"x":2.2e6,"y":8e31},{"x":2.5e6,"y":2.5e31},{"x":1.4e6,"y":1.7e31},{"x":5.8e5,"y":4.9e30},{"x":2.8e6,"y":3.3e30},{"x":3.8e6,"y":1e30},{"x":1.6e6,"y":5.3e29},{"x":6.6e5,"y":2.4e29},{"x":2.7e6,"y":1.2e29},{"x":4.6e6,"y":1.6e31},{"x":6.7e6,"y":5.5e31},{"x":9.4e6,"y":1.7e30},{"x":7.8e6,"y":8.7e30},{"x":3.2e6,"y":4.2e32},{"x":5.4e6,"y":7.4e32},{"x":6.4e6,"y":1.2e34},{"x":1.05e7,"y":6.2e32},{"x":1.2e7,"y":2.6e33},{"x":1.4e7,"y":7.6e33},{"x":1.7e7,"y":1.9e30},{"x":2.1e7,"y":6.5e29},{"x":3.2e7,"y":2.4e29},{"x":1.9e7,"y":9.6e30},{"x":2.1e7,"y":3.3e30},{"x":4.6e7,"y":1.4e36},{"x":4.3e7,"y":6.6e35},{"x":5.1e7,"y":2.2e35},{"x":5.2e7,"y":2.8e30},{"x":3.6e7,"y":8.7e30},{"x":4.1e7,"y":6e31},{"x":3e7,"y":3.8e32},{"x":3.8e7,"y":1.1e34},{"x":2.5e7,"y":1e33},{"x":3.3e7,"y":3e33},{"x":4e7,"y":1.5e33},{"x":4.5e7,"y":5e33},{"x":5e7,"y":2e34},{"x":5.5e7,"y":8e33},{"x":2.8e7,"y":2e32},{"x":3.5e7,"y":6e32},{"x":4.8e7,"y":1e32},{"x":2e7,"y":5e33},{"x":3e7,"y":2e34},{"x":5e7,"y":1e33},{"x":1.6e7,"y":2e32},{"x":4.4e7,"y":3e34},{"x":5.3e7,"y":6e34},{"x":8e6,"y":3e31},{"x":1.3e7,"y":8e31},{"x":7.4e7,"y":4.5e35},{"x":8.9e7,"y":1.3e35},{"x":6.9e7,"y":1.1e31},{"x":5.8e7,"y":3e33},{"x":6e7,"y":4e34},{"x":6.3e7,"y":1.2e34},{"x":6.5e7,"y":6e33},{"x":6.8e7,"y":2e34},{"x":7e7,"y":5e34},{"x":7.2e7,"y":1e34},{"x":7.5e7,"y":3e33},{"x":7.8e7,"y":8e34},{"x":8e7,"y":2.5e34},{"x":8.2e7,"y":1.5e34},{"x":8.5e7,"y":5e33},{"x":8.7e7,"y":6e34},{"x":9e7,"y":3e34},{"x":9.2e7,"y":1e34},{"x":9.5e7,"y":1.5e35},{"x":9.8e7,"y":4e34},{"x":5.7e7,"y":1e35},{"x":6.6e7,"y":2e35},{"x":8e7,"y":3e35},{"x":9e7,"y":8e35},{"x":6e7,"y":3e32},{"x":7e7,"y":8e32},{"x":8.5e7,"y":1.5e33},{"x":6.5e7,"y":2e33},{"x":7.5e7,"y":1.2e35},{"x":9.5e7,"y":4e33},{"x":6.2e7,"y":7e34},{"x":8.3e7,"y":6e35},{"x":9.9e7,"y":1.2e36},{"x":1.02e8,"y":3e33},{"x":1.04e8,"y":5e34},{"x":1.06e8,"y":1e34},{"x":1.08e8,"y":2e35},{"x":1.1e8,"y":3e34},{"x":1.13e8,"y":6e33},{"x":1.16e8,"y":1e35},{"x":1.19e8,"y":2e34},{"x":1.22e8,"y":4e35},{"x":1.25e8,"y":8e33},{"x":1.28e8,"y":6e34},{"x":1.31e8,"y":1.5e34},{"x":1.34e8,"y":2e36},{"x":1.37e8,"y":4e34},{"x":1.4e8,"y":3e33},{"x":1.43e8,"y":1.2e35},{"x":1.46e8,"y":2.5e34},{"x":1.5e8,"y":7e35},{"x":1.53e8,"y":1e34},{"x":1.56e8,"y":8e34},{"x":1.6e8,"y":3e35},{"x":1.63e8,"y":5e33},{"x":1.66e8,"y":4e34},{"x":1.7e8,"y":1.5e35},{"x":1.73e8,"y":2e34},{"x":1.76e8,"y":1e36},{"x":1.5e8,"y":2e32},{"x":1.8e8,"y":6e34},{"x":1.84e8,"y":4e33},{"x":1.88e8,"y":2e35},{"x":1.92e8,"y":1.5e34},{"x":1.96e8,"y":5e35},{"x":2e8,"y":3e34},{"x":2e8,"y":1e37},{"x":2.04e8,"y":8e33},{"x":2.08e8,"y":1e35},{"x":2.12e8,"y":4e34},{"x":2.16e8,"y":2e36},{"x":2.2e8,"y":6e33},{"x":2.25e8,"y":2.5e35},{"x":2.3e8,"y":2e34},{"x":2.35e8,"y":8e34},{"x":2.4e8,"y":1e36},{"x":2.45e8,"y":1.2e34},{"x":2.5e8,"y":4e35},{"x":2.55e8,"y":5e34},{"x":2.6e8,"y":3e33},{"x":2.7e8,"y":1.5e35},{"x":2.75e8,"y":3e36},{"x":2.8e8,"y":2.5e34},{"x":2.85e8,"y":7e35},{"x":2.9e8,"y":9e34},{"x":3e8,"y":1.5e34},{"x":3.1e8,"y":4e36},{"x":2.5e8,"y":1.5e37},{"x":3e8,"y":5e32},{"x":3.2e8,"y":2e35},{"x":3.25e8,"y":6e33},{"x":3.3e8,"y":5e34},{"x":3.4e8,"y":1.5e36},{"x":3.5e8,"y":2e34},{"x":3.55e8,"y":3e35},{"x":3.6e8,"y":8e34},{"x":3.7e8,"y":5e36},{"x":3.8e8,"y":1e34},{"x":3.9e8,"y":6e35},{"x":4e8,"y":4e34},{"x":4.1e8,"y":1.5e35},{"x":4.2e8,"y":3e33},{"x":4.3e8,"y":2e36},{"x":4.4e8,"y":7e34},{"x":4.5e8,"y":4e35},{"x":4.6e8,"y":2.5e34},{"x":4.7e8,"y":8e36},{"x":4.8e8,"y":1.2e35},{"x":4.9e8,"y":1e34},{"x":5e8,"y":6e35},{"x":5.1e8,"y":5e34},{"x":5.2e8,"y":2.5e36},{"x":5.3e8,"y":1.5e35},{"x":5.4e8,"y":4e33},{"x":5.5e8,"y":1e36},{"x":4e8,"y":3e37},{"x":5e8,"y":8e37},{"x":4.5e8,"y":2e32},{"x":5.7e8,"y":3e34},{"x":5.8e8,"y":4e36},{"x":5.9e8,"y":2e35},{"x":5.9e8,"y":4.9e30},{"x":6e8,"y":1e35},{"x":6.1e8,"y":1.5e34},{"x":6.3e8,"y":8e35},{"x":6.4e8,"y":5e34},{"x":6.6e8,"y":1.2e37},{"x":6.8e8,"y":3e35},{"x":7e8,"y":6e33},{"x":7e8,"y":2e36},{"x":7.2e8,"y":8e34},{"x":7.4e8,"y":5e35},{"x":7.5e8,"y":2e34},{"x":7.7e8,"y":3e36},{"x":7.9e8,"y":1.5e35},{"x":8e8,"y":1e37},{"x":8.2e8,"y":4e34},{"x":8.4e8,"y":7e35},{"x":8.6e8,"y":2.5e35},{"x":8.8e8,"y":6e36},{"x":9e8,"y":1e34},{"x":9.2e8,"y":1.5e36},{"x":9.4e8,"y":8e34},{"x":9.6e8,"y":3e37},{"x":9.8e8,"y":4e35},{"x":8e8,"y":2.5e38},{"x":6e8,"y":1e38},{"x":9e8,"y":6e37},{"x":6e8,"y":1e33},{"x":1.02e9,"y":5e34},{"x":1.04e9,"y":2e36},{"x":1.06e9,"y":1e35},{"x":1.08e9,"y":6e36},{"x":1.1e9,"y":2.5e34},{"x":1.13e9,"y":5e35},{"x":1.16e9,"y":1.5e37},{"x":1.19e9,"y":1.5e35},{"x":1.22e9,"y":4e34},{"x":1.25e9,"y":1.2e36},{"x":1.28e9,"y":3e35},{"x":1.31e9,"y":3e37},{"x":1.34e9,"y":8e34},{"x":1.37e9,"y":4e36},{"x":1.4e9,"y":6e35},{"x":1.43e9,"y":4e33},{"x":1.46e9,"y":2e35},{"x":1.5e9,"y":8e36},{"x":1.53e9,"y":3e34},{"x":1.56e9,"y":1e36},{"x":1.6e9,"y":4e35},{"x":1.63e9,"y":2e37},{"x":1.66e9,"y":1.2e35},{"x":1.7e9,"y":5e34},{"x":1.73e9,"y":3e36},{"x":1.76e9,"y":7e35},{"x":1.35e9,"y":1.9e31},{"x":1.2e9,"y":5e37},{"x":1.6e9,"y":1e38},{"x":1.5e9,"y":3e33},{"x":1.8e9,"y":1.5e36},{"x":1.84e9,"y":1e35},{"x":1.88e9,"y":6e37},{"x":1.92e9,"y":4e35},{"x":1.96e9,"y":5e34},{"x":2e9,"y":4e36},{"x":2.04e9,"y":2e35},{"x":2.08e9,"y":1.2e37},{"x":2.12e9,"y":8e34},{"x":2.16e9,"y":8e35},{"x":2.2e9,"y":2e38},{"x":2.25e9,"y":3e36},{"x":2.3e9,"y":3e34},{"x":2.35e9,"y":5e35},{"x":2.4e9,"y":2e37},{"x":2.45e9,"y":1.2e36},{"x":2.5e9,"y":1.5e35},{"x":2.55e9,"y":6e36},{"x":2.6e9,"y":2.5e39},{"x":2.65e9,"y":6e34},{"x":2.7e9,"y":1e36},{"x":2.75e9,"y":4e37},{"x":2.8e9,"y":3e35},{"x":2.85e9,"y":2.5e36},{"x":2.9e9,"y":1e35},{"x":3e9,"y":5e38},{"x":3e9,"y":1.2e37},{"x":3.1e9,"y":2e34},{"x":3.2e9,"y":8e35},{"x":3.25e9,"y":3e37},{"x":3.3e9,"y":1.5e35},{"x":3.4e9,"y":5e36},{"x":3.5e9,"y":8e33},{"x":3.55e9,"y":2e36},{"x":3.6e9,"y":9e38},{"x":3.65e9,"y":4e35},{"x":3.7e9,"y":1e37},{"x":3.8e9,"y":8e34},{"x":3.9e9,"y":6e37},{"x":4e9,"y":1.5e36},{"x":4.1e9,"y":3e35},{"x":4.2e9,"y":3e39},{"x":4.25e9,"y":5e36},{"x":4.3e9,"y":1e35},{"x":4.4e9,"y":2e37},{"x":4.5e9,"y":3e38},{"x":4.55e9,"y":8e35},{"x":4.6e9,"y":4e34},{"x":4.7e9,"y":3e36},{"x":4.8e9,"y":1e38},{"x":4.9e9,"y":5e35},{"x":5e9,"y":1.5e39},{"x":5e9,"y":1.2e37},{"x":5.1e9,"y":2e35},{"x":5.2e9,"y":6e36},{"x":5.3e9,"y":4e37},{"x":5.4e9,"y":1.5e36},{"x":5.5e9,"y":6e34},{"x":5.7e9,"y":3e36},{"x":5.8e9,"y":2e38},{"x":5.9e9,"y":7e35},{"x":6e9,"y":6e38},{"x":6e9,"y":2e34},{"x":6.1e9,"y":1.5e37},{"x":6.3e9,"y":1.2e36},{"x":6.4e9,"y":8e37},{"x":6.6e9,"y":3e35},{"x":6.8e9,"y":5e36},{"x":7e9,"y":2e39},{"x":7e9,"y":2.5e37},{"x":7.2e9,"y":1e36},{"x":7.4e9,"y":1.5e35},{"x":7.5e9,"y":8e36},{"x":7.7e9,"y":5e37},{"x":7.9e9,"y":2e36},{"x":8e9,"y":1e39},{"x":8.2e9,"y":5e35},{"x":8.4e9,"y":1.5e38},{"x":8.6e9,"y":4e36},{"x":8.8e9,"y":1.2e37},{"x":9e9,"y":1.2e39},{"x":9e9,"y":5e33},{"x":9.2e9,"y":8e35},{"x":9.4e9,"y":3e37},{"x":9.6e9,"y":2.5e36},{"x":9.8e9,"y":4e38},{"x":8.5e9,"y":4e38},{"x":1.02e10,"y":5e35},{"x":1.04e10,"y":3e37},{"x":1.06e10,"y":2e36},{"x":1.08e10,"y":1e38},{"x":1.1e10,"y":8e36},{"x":1.1e10,"y":6e38},{"x":1.12e10,"y":2e35},{"x":1.14e10,"y":4e36},{"x":1.17e10,"y":2e37},{"x":1.2e10,"y":2.5e39},{"x":1.2e10,"y":1e36},{"x":1.22e10,"y":6e37},{"x":1.25e10,"y":3e35},{"x":1.28e10,"y":1.2e37},{"x":1.3e10,"y":3e36},{"x":1.33e10,"y":2.5e38},{"x":1.36e10,"y":8e35},{"x":1.4e10,"y":5e36},{"x":1.43e10,"y":3e38},{"x":1.46e10,"y":1.5e37},{"x":1.5e10,"y":1.2e39},{"x":1.5e10,"y":1.5e35},{"x":1.53e10,"y":4e37},{"x":1.56e10,"y":2e36},{"x":1.6e10,"y":7e36},{"x":1.63e10,"y":1e38},{"x":1.66e10,"y":6e35},{"x":1.7e10,"y":2e37},{"x":1.73e10,"y":3e36},{"x":1.76e10,"y":8e37},{"x":1.1e10,"y":2e31},{"x":1.5e10,"y":3e34},{"x":1.8e10,"y":1.5e36},{"x":1.84e10,"y":5e37},{"x":1.88e10,"y":4e35},{"x":1.9e10,"y":4e39},{"x":1.92e10,"y":8e36},{"x":1.96e10,"y":2e38},{"x":2e10,"y":3e36},{"x":2.04e10,"y":1e37},{"x":2.08e10,"y":6e35},{"x":2.1e10,"y":5e39},{"x":2.12e10,"y":4e37},{"x":2.16e10,"y":1.5e36},{"x":2.2e10,"y":1.2e38},{"x":2.25e10,"y":5e36},{"x":2.3e10,"y":2.5e35},{"x":2.35e10,"y":2e37},{"x":2.4e10,"y":8e37},{"x":2.45e10,"y":2.5e36},{"x":2.5e10,"y":1e39},{"x":2.5e10,"y":6e36},{"x":2.55e10,"y":1e36},{"x":2.6e10,"y":3e37},{"x":2.7e10,"y":3e39},{"x":2.7e10,"y":4e38},{"x":2.75e10,"y":1.2e37},{"x":2.8e10,"y":4e36},{"x":2.85e10,"y":7e35},{"x":2.9e10,"y":6e37},{"x":3e10,"y":8e38},{"x":3e10,"y":2e37},{"x":3.1e10,"y":3e36},{"x":2e10,"y":4e33},{"x":3.2e10,"y":8e36},{"x":3.25e10,"y":5e35},{"x":3.3e10,"y":2e38},{"x":3.4e10,"y":3e37},{"x":3.45e10,"y":2e36},{"x":3.5e10,"y":5e38},{"x":3.5e10,"y":1e34},{"x":3.55e10,"y":1e37},{"x":3.6e10,"y":6e37},{"x":3.7e10,"y":4e36},{"x":3.75e10,"y":1.5e38},{"x":3.8e10,"y":1.2e36},{"x":3.9e10,"y":2.5e37},{"x":4e10,"y":1.5e39},{"x":4e10,"y":7e36},{"x":4.1e10,"y":3e35},{"x":4.2e10,"y":8e37},{"x":4.3e10,"y":1.5e37},{"x":4.4e10,"y":3e36},{"x":4.5e10,"y":4e38},{"x":4.55e10,"y":1e36},{"x":4.6e10,"y":4e37},{"x":4.7e10,"y":6e36},{"x":4.8e10,"y":1.2e38},{"x":4.9e10,"y":2e37},{"x":5e10,"y":1.2e40},{"x":5e10,"y":2e36},{"x":5.1e10,"y":5e37},{"x":5.2e10,"y":6e35},{"x":5.3e10,"y":1e37},{"x":5.4e10,"y":3e38},{"x":5.5e10,"y":4e36},{"x":5e10,"y":2e33},{"x":5.7e10,"y":2e37},{"x":5.8e10,"y":8e35},{"x":5.9e10,"y":6e37},{"x":6e10,"y":2e39},{"x":6e10,"y":5e36},{"x":6.1e10,"y":3e38},{"x":6.3e10,"y":1.5e37},{"x":6.5e10,"y":8e39},{"x":6.5e10,"y":2e36},{"x":6.6e10,"y":8e37},{"x":6.8e10,"y":6e36},{"x":7e10,"y":6e38},{"x":7e10,"y":3e37},{"x":7.2e10,"y":1e36},{"x":7.4e10,"y":1e38},{"x":7.5e10,"y":1e37},{"x":7.7e10,"y":3e36},{"x":7.9e10,"y":4e37},{"x":8e10,"y":1e39},{"x":8e10,"y":1.5e38},{"x":8.2e10,"y":6e36},{"x":8.4e10,"y":2e37},{"x":8.5e10,"y":6e32},{"x":8.6e10,"y":5e38},{"x":8.8e10,"y":1.5e36},{"x":9e10,"y":3e39},{"x":9e10,"y":5e37},{"x":9.2e10,"y":1e37},{"x":9.4e10,"y":2e38},{"x":9.6e10,"y":3e36},{"x":9.8e10,"y":8e37},{"x":1e11,"y":1.5e37},{"x":7e10,"y":1.5e34},{"x":9e10,"y":1.5e33},{"x":6e10,"y":4e34},{"x":9.5e10,"y":3e35},
{"x":6e7,"y":5e34},{"x":6e7,"y":1.5e34},{"x":7e7,"y":2e35},{"x":7e7,"y":3e34},{"x":8e7,"y":8e34},{"x":8e7,"y":1e34},{"x":9e7,"y":3e35},{"x":9e7,"y":4e34},{"x":1e8,"y":1e35},{"x":1e8,"y":2e34},{"x":1.12e8,"y":5e34},{"x":1.12e8,"y":3e35},{"x":1.26e8,"y":1.5e35},{"x":1.26e8,"y":2.5e34},{"x":1.4e8,"y":6e34},{"x":1.4e8,"y":5e35},{"x":1.58e8,"y":2e35},{"x":1.58e8,"y":3e34},{"x":1.78e8,"y":8e34},{"x":1.78e8,"y":4e35},{"x":2e8,"y":2.5e35},{"x":2e8,"y":5e34},{"x":2.24e8,"y":1e35},{"x":2.24e8,"y":6e35},{"x":2.5e8,"y":3e35},{"x":2.5e8,"y":6e34},{"x":2.8e8,"y":1.2e35},{"x":2.8e8,"y":8e35},{"x":3.2e8,"y":4e35},{"x":3.2e8,"y":7e34},{"x":3.5e8,"y":1.5e35},{"x":3.5e8,"y":1e36},{"x":4e8,"y":5e35},{"x":4e8,"y":9e34},{"x":4.5e8,"y":2e35},{"x":4.5e8,"y":1.2e36},{"x":5e8,"y":7e35},{"x":5e8,"y":1e35},{"x":5.6e8,"y":2.5e35},{"x":5.6e8,"y":1.5e36},{"x":6.3e8,"y":1e36},{"x":6.3e8,"y":1.5e35},{"x":7e8,"y":4e35},{"x":7e8,"y":2e36},{"x":7.9e8,"y":1.2e36},{"x":7.9e8,"y":2e35},{"x":8.9e8,"y":5e35},{"x":8.9e8,"y":2.5e36},{"x":1e9,"y":1.5e36},{"x":1e9,"y":3e35},{"x":1.12e9,"y":6e35},{"x":1.12e9,"y":3e36},{"x":1.26e9,"y":2e36},{"x":1.26e9,"y":4e35},{"x":1.4e9,"y":8e35},{"x":1.4e9,"y":4e36},{"x":1.58e9,"y":2.5e36},{"x":1.58e9,"y":5e35},{"x":1.78e9,"y":1e36},{"x":1.78e9,"y":5e36},{"x":2e9,"y":3e36},{"x":2e9,"y":6e35},{"x":2.24e9,"y":1.2e36},{"x":2.24e9,"y":6e36},{"x":2.5e9,"y":4e36},{"x":2.5e9,"y":7e35},{"x":2.8e9,"y":1.5e36},{"x":2.8e9,"y":8e36},{"x":3.2e9,"y":5e36},{"x":3.2e9,"y":9e35},{"x":3.5e9,"y":2e36},{"x":3.5e9,"y":1e37},{"x":4e9,"y":6e36},{"x":4e9,"y":1e36},{"x":4.5e9,"y":2.5e36},{"x":4.5e9,"y":1.2e37},{"x":5e9,"y":8e36},{"x":5e9,"y":1.2e36},{"x":5.6e9,"y":3e36},{"x":5.6e9,"y":1.5e37},{"x":6.3e9,"y":1e37},{"x":6.3e9,"y":1.5e36},{"x":7e9,"y":4e36},{"x":7e9,"y":2e37},{"x":7.9e9,"y":1.2e37},{"x":7.9e9,"y":2e36},{"x":8.9e9,"y":5e36},{"x":8.9e9,"y":2.5e37},{"x":1e10,"y":1.5e37},{"x":1e10,"y":2.5e36},{"x":1.12e10,"y":6e36},{"x":1.12e10,"y":3e37},{"x":1.26e10,"y":2e37},{"x":1.26e10,"y":3e36},{"x":1.4e10,"y":8e36},{"x":1.4e10,"y":4e37},{"x":1.58e10,"y":2.5e37},{"x":1.58e10,"y":4e36},{"x":1.78e10,"y":1e37},{"x":1.78e10,"y":5e37},{"x":2e10,"y":3e37},{"x":2e10,"y":5e36},{"x":2.24e10,"y":1.2e37},{"x":2.24e10,"y":6e37},{"x":2.5e10,"y":4e37},{"x":2.5e10,"y":6e36},{"x":2.8e10,"y":1.5e37},{"x":2.8e10,"y":7e37},{"x":3.2e10,"y":5e37},{"x":3.2e10,"y":7e36},{"x":3.5e10,"y":2e37},{"x":3.5e10,"y":1e38},{"x":4e10,"y":6e37},{"x":4e10,"y":8e36},{"x":4.5e10,"y":2.5e37},{"x":4.5e10,"y":1e38},{"x":5e10,"y":8e37},{"x":5e10,"y":9e36},{"x":5.6e10,"y":3e37},{"x":5.6e10,"y":1.2e38},{"x":6.3e10,"y":1e38},{"x":6.3e10,"y":1e37},{"x":7e10,"y":3.5e37},{"x":7e10,"y":1.5e38},{"x":7.9e10,"y":1e38},{"x":7.9e10,"y":1.2e37},{"x":8.9e10,"y":4e37},{"x":8.9e10,"y":2e38},{"x":9.6e10,"y":1.5e37},{"x":9.6e10,"y":6e37}],
"threshold":[{"y":2.8e38}]
},
"spacing":104,
"bounds":"flush",
"hconcat":[
{"width":613,"height":487,"title":{"text":"Light seed"},
"layer":[
{"data":{"name":"light_blue"},"mark":{"type":"point","filled":true,"color":"#1f77b4","stroke":"#1f77b4","size":240,"fillOpacity":0.35,"strokeOpacity":0.45,"strokeWidth":1.5,"clip":true},
"encoding":{"x":{"field":"x","type":"quantitative","scale":{"type":"log","domain":[1e5,1e11],"nice":false},"axis":{"values":[1e5,1e7,1e9,1e11],"labelExpr":"'10' + (round(log(datum.value)/LN10) >= 10 ? substring('⁰¹²³⁴⁵⁶⁷⁸⁹', floor(round(log(datum.value)/LN10)/10), floor(round(log(datum.value)/LN10)/10) + 1) : '') + substring('⁰¹²³⁴⁵⁶⁷⁸⁹', round(log(datum.value)/LN10) % 10, round(log(datum.value)/LN10) % 10 + 1)","title":"M∗/M⊙","titleFontStyle":"italic"}},
"y":{"field":"y","type":"quantitative","scale":{"type":"log","domain":[1e28,1.9e40],"nice":false},"axis":{"values":[1e28,1e32,1e36,1e40],"labelExpr":"'10' + (round(log(datum.value)/LN10) >= 10 ? substring('⁰¹²³⁴⁵⁶⁷⁸⁹', floor(round(log(datum.value)/LN10)/10), floor(round(log(datum.value)/LN10)/10) + 1) : '') + substring('⁰¹²³⁴⁵⁶⁷⁸⁹', round(log(datum.value)/LN10) % 10, round(log(datum.value)/LN10) % 10 + 1)","title":"νLν (5 GHz, erg/s)"}}}},
{"data":{"name":"light_green"},"mark":{"type":"point","filled":true,"color":"#2ca02c","stroke":"#2ca02c","size":240,"fillOpacity":0.35,"strokeOpacity":0.45,"strokeWidth":1.5,"clip":true},
"encoding":{"x":{"field":"x","type":"quantitative"},"y":{"field":"y","type":"quantitative","title":"νLν (5 GHz, erg/s)"}}},
{"data":{"name":"light_orange"},"mark":{"type":"point","filled":true,"color":"#ff7f0e","stroke":"#ff7f0e","size":240,"fillOpacity":0.35,"strokeOpacity":0.45,"strokeWidth":1.5,"clip":true},
"encoding":{"x":{"field":"x","type":"quantitative"},"y":{"field":"y","type":"quantitative","title":"νLν (5 GHz, erg/s)"}}},
{"data":{"name":"threshold"},"mark":{"type":"rule","color":"black","strokeWidth":4,"strokeDash":[4,7]},
"encoding":{"y":{"field":"y","type":"quantitative","title":"νLν (5 GHz, erg/s)"}}}
]},
{"width":613,"height":487,"title":{"text":"Heavy seed"},
"layer":[
{"data":{"name":"heavy_blue"},"mark":{"type":"point","filled":true,"color":"#1f77b4","stroke":"#1f77b4","size":240,"fillOpacity":0.35,"strokeOpacity":0.45,"strokeWidth":1.5,"clip":true},
"encoding":{"x":{"field":"x","type":"quantitative","scale":{"type":"log","domain":[1e5,1e11],"nice":false},"axis":{"values":[1e5,1e7,1e9,1e11],"labelExpr":"'10' + (round(log(datum.value)/LN10) >= 10 ? substring('⁰¹²³⁴⁵⁶⁷⁸⁹', floor(round(log(datum.value)/LN10)/10), floor(round(log(datum.value)/LN10)/10) + 1) : '') + substring('⁰¹²³⁴⁵⁶⁷⁸⁹', round(log(datum.value)/LN10) % 10, round(log(datum.value)/LN10) % 10 + 1)","title":"M∗/M⊙","titleFontStyle":"italic"}},
"y":{"field":"y","type":"quantitative","scale":{"type":"log","domain":[1e28,1.9e40],"nice":false},"axis":{"values":[1e28,1e32,1e36,1e40],"labels":false,"title":null}}}},
{"data":{"name":"heavy_green"},"mark":{"type":"point","filled":true,"color":"#2ca02c","stroke":"#2ca02c","size":240,"fillOpacity":0.35,"strokeOpacity":0.45,"strokeWidth":1.5,"clip":true},
"encoding":{"x":{"field":"x","type":"quantitative"},"y":{"field":"y","type":"quantitative","title":null}}},
{"data":{"name":"heavy_orange"},"mark":{"type":"point","filled":true,"color":"#ff7f0e","stroke":"#ff7f0e","size":240,"fillOpacity":0.35,"strokeOpacity":0.45,"strokeWidth":1.5,"clip":true},
"encoding":{"x":{"field":"x","type":"quantitative"},"y":{"field":"y","type":"quantitative","title":null}}},
{"data":{"name":"threshold"},"mark":{"type":"rule","color":"black","strokeWidth":4,"strokeDash":[4,7]},
"encoding":{"y":{"field":"y","type":"quantitative","title":null}}}
]}
]
}
